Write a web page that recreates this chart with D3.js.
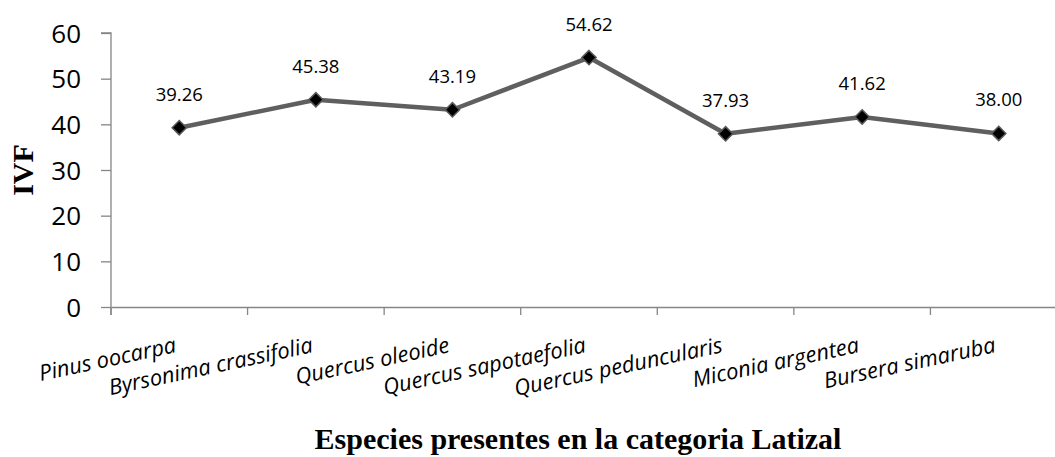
<!DOCTYPE html>
<html>
<head>
<meta charset="utf-8">
<script src="https://cdn.jsdelivr.net/npm/d3@7"></script>
<style>
  html, body { margin: 0; padding: 0; background: #fff; }
  svg { display: block; }
</style>
</head>
<body>
<svg id="chart" width="1055" height="457"></svg>
<script>
const categories = ["Pinus oocarpa", "Byrsonima crassifolia", "Quercus oleoide", "Quercus sapotaefolia", "Quercus peduncularis", "Miconia argentea", "Bursera simaruba"];
const values = [39.26, 45.38, 43.19, 54.62, 37.93, 41.62, 38.00];
const yTicks = [0, 10, 20, 30, 40, 50, 60];
const yTitle = "IVF";
const xTitle = "Especies presentes en la categoria Latizal";

const svg = d3.select("#chart");
const mLeft = 111, mTop = 33, mBottom = 307, mRight = 1067;

const x = d3.scaleBand().domain(categories).range([mLeft, mRight]).padding(0);
const y = d3.scaleLinear().domain([0, 60]).range([mBottom, mTop]);

const axisColor = "#868686";

// Y axis
const yAxis = svg.append("g").attr("transform", `translate(${mLeft},0)`)
  .call(d3.axisLeft(y).tickValues(yTicks).tickSize(10).tickPadding(20).tickFormat(d3.format("d")));
yAxis.select(".domain").attr("stroke", axisColor).attr("stroke-width", 1.3).attr("d", `M-10,${mTop}H0V${mBottom + 8}`);
yAxis.selectAll(".tick line").attr("stroke", axisColor).attr("stroke-width", 1.3);
yAxis.selectAll(".tick text").attr("font-family", "'Open Sans', sans-serif").attr("font-size", 26).attr("fill", "#000").attr("dy", "0.35em");

// X axis
const xAxis = svg.append("g").attr("transform", `translate(0,${mBottom})`)
  .call(d3.axisBottom(x).tickSize(0).tickFormat(() => ""));
xAxis.select(".domain").attr("stroke", axisColor).attr("stroke-width", 1.3);
const bounds = categories.map(c => x(c)).concat([x(categories[categories.length - 1]) + x.bandwidth()]);
xAxis.selectAll(".bt").data(bounds).enter().append("line")
  .attr("x1", d => d).attr("x2", d => d).attr("y1", 0).attr("y2", 8)
  .attr("stroke", axisColor).attr("stroke-width", 1.3);

// X category labels, rotated
svg.append("g").selectAll("text").data(categories).enter().append("text")
  .attr("transform", d => `translate(${x(d) + x.bandwidth() / 2 - 2},${mBottom + 45}) rotate(-12)`)
  .attr("text-anchor", "end")
  .attr("font-family", "'Open Sans', sans-serif")
  .attr("font-style", "italic")
  .attr("font-size", 22)
  .attr("fill", "#000")
  .text(d => d);

// Line
const cx = d => x(d) + x.bandwidth() / 2;
const line = d3.line().x((d, i) => cx(categories[i])).y(d => y(d));
svg.append("path").datum(values).attr("d", line)
  .attr("fill", "none").attr("stroke", "#5f5f5f").attr("stroke-width", 4.5).attr("stroke-linejoin", "round");

// Markers (diamonds)
const sym = d3.symbol().type(d3.symbolDiamond2).size(130);
svg.append("g").selectAll("path").data(values).enter().append("path")
  .attr("d", sym)
  .attr("transform", (d, i) => `translate(${cx(categories[i])},${y(d)})`)
  .attr("fill", "#000").attr("stroke", "#5a5a5a").attr("stroke-width", 1.5);

// Data labels
svg.append("g").selectAll("text").data(values).enter().append("text")
  .attr("x", (d, i) => cx(categories[i]))
  .attr("y", d => y(d) - 27)
  .attr("text-anchor", "middle")
  .attr("font-family", "'Open Sans', sans-serif")
  .attr("font-size", 18.5)
  .attr("fill", "#000")
  .text(d => d3.format(".2f")(d));

// Y title
svg.append("text")
  .attr("transform", `translate(33,170) rotate(-90)`)
  .attr("text-anchor", "middle")
  .attr("font-family", "'Liberation Serif', 'Times New Roman', serif")
  .attr("font-weight", "bold")
  .attr("font-size", 30)
  .attr("fill", "#000")
  .text(yTitle);

// X title
svg.append("text")
  .attr("x", 578).attr("y", 449)
  .attr("text-anchor", "middle")
  .attr("font-family", "'Liberation Serif', 'Times New Roman', serif")
  .attr("font-weight", "bold")
  .attr("font-size", 30)
  .attr("fill", "#000")
  .text(xTitle);
</script>
</body>
</html>
